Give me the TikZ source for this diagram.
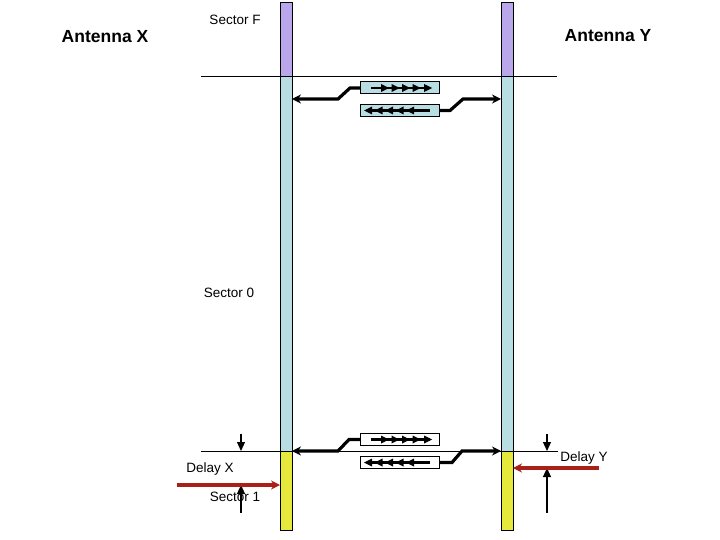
\documentclass[tikz,border=0pt]{standalone}
\usepackage{fontspec}
\setmainfont{Liberation Sans}
\usetikzlibrary{arrows.meta}
\definecolor{purp}{RGB}{186,166,234}
\definecolor{lblue}{RGB}{184,222,228}
\definecolor{yel}{RGB}{230,232,60}
\definecolor{dred}{RGB}{168,32,24}
\tikzset{
  bar/.style={draw=black, line width=1pt},
  box/.style={draw=black, line width=1pt, minimum width=79pt, minimum height=12pt, inner sep=0pt},
  conn/.style={line width=3.2pt, line join=miter, -{Stealth[length=9pt,width=9pt]}},
  redarr/.style={dred, line width=3.2pt, -{Stealth[length=9pt,width=9pt]}},
  delayarr/.style={line width=1.1pt, -{Triangle[length=9pt,width=8pt]}},
  lbl/.style={font=\fontsize{13.5}{14}\selectfont, inner sep=0pt},
  big/.style={font=\fontsize{17.5}{18}\selectfont\bfseries, inner sep=0pt},
}
\begin{document}
\begin{tikzpicture}[x=1pt,y=-1pt]
\useasboundingbox (0,0) rectangle (720,540);
% bars
\draw[bar, fill=purp] (280,3) rectangle (292,77);
\draw[bar, fill=lblue] (280,77) rectangle (292,451);
\draw[bar, fill=yel] (280,451) rectangle (292,530);
\draw[bar, fill=purp] (501,3) rectangle (513,77);
\draw[bar, fill=lblue] (501,77) rectangle (513,451);
\draw[bar, fill=yel] (501,451) rectangle (513,530);
% horizontal boundary lines
\coordinate (tl) at (201,77); \coordinate (tr) at (557,77);
\coordinate (bl) at (201,451); \coordinate (br) at (558,451);
\draw[line width=1pt] (tl) -- (tr);
\draw[line width=1pt] (bl) -- (br);
% labels
\node[big] (antx) at (105,37) {Antenna X};
\node[big] (anty) at (608,36) {Antenna Y};
\node[lbl] (secf) at (235,20) {Sector F};
\node[lbl] (sec0) at (229,293) {Sector 0};
\node[lbl] (dx) at (210,469) {Delay X};
\node[lbl] (sec1) at (235,497) {Sector 1};
\node[lbl] (dy) at (584,458) {Delay Y};
% bar contact points
\coordinate (LT) at (292,99); \coordinate (RT) at (501,99);
\coordinate (LB) at (292,451); \coordinate (RB) at (501,451);
% top boxes
\node[box, fill=lblue] (t1) at (400,88) {};
\node[box, fill=lblue] (t2) at (400,110.5) {};
\draw[conn] (t1.west) -- (350,88) -- (338,99) -- (LT);
\draw[conn] (t2.east) -- (450,110.5) -- (463,99) -- (RT);
\draw[line width=2.2pt] (371,88) -- (430,88);
\foreach \x in {389,399.5,410,420.5,432} \fill (\x,88) -- ++(-8,-4) -- ++(0,8) -- cycle;
\draw[line width=2.2pt] (367,110.5) -- (430,110.5);
\foreach \x in {364,374.5,385,395.5,406} \fill (\x,110.5) -- ++(8,-4) -- ++(0,8) -- cycle;
% bottom boxes
\node[box, fill=white] (b1) at (400,439.5) {};
\node[box, fill=white] (b2) at (400,462.5) {};
\draw[conn] (b1.west) -- (349,439.5) -- (338,451) -- (LB);
\draw[conn] (b2.east) -- (452,462.5) -- (462,451) -- (RB);
\draw[line width=2.2pt] (371,439.5) -- (430,439.5);
\foreach \x in {389,399.5,410,420.5,432} \fill (\x,439.5) -- ++(-8,-4) -- ++(0,8) -- cycle;
\draw[line width=2.2pt] (367,462.5) -- (430,462.5);
\foreach \x in {364,374.5,385,395.5,406} \fill (\x,462.5) -- ++(8,-4) -- ++(0,8) -- cycle;
% delay markers
\coordinate (dxa) at (241,434); \coordinate (dxb) at (241,451);
\coordinate (dxc) at (241,513); \coordinate (dxd) at (241,485);
\draw[delayarr] (dxa) -- (dxb);
\draw[delayarr] (dxc) -- (dxd);
\coordinate (dya) at (547,434); \coordinate (dyb) at (547,451);
\coordinate (dyc) at (547,513); \coordinate (dyd) at (547,468);
\draw[delayarr] (dya) -- (dyb);
\draw[delayarr] (dyc) -- (dyd);
% red incoming signals
\coordinate (rxs) at (177,485); \coordinate (rxe) at (280,485);
\coordinate (rys) at (599,468); \coordinate (rye) at (513,468);
\draw[redarr] (rxs) -- (rxe);
\draw[redarr] (rys) -- (rye);
\end{tikzpicture}
\end{document}
